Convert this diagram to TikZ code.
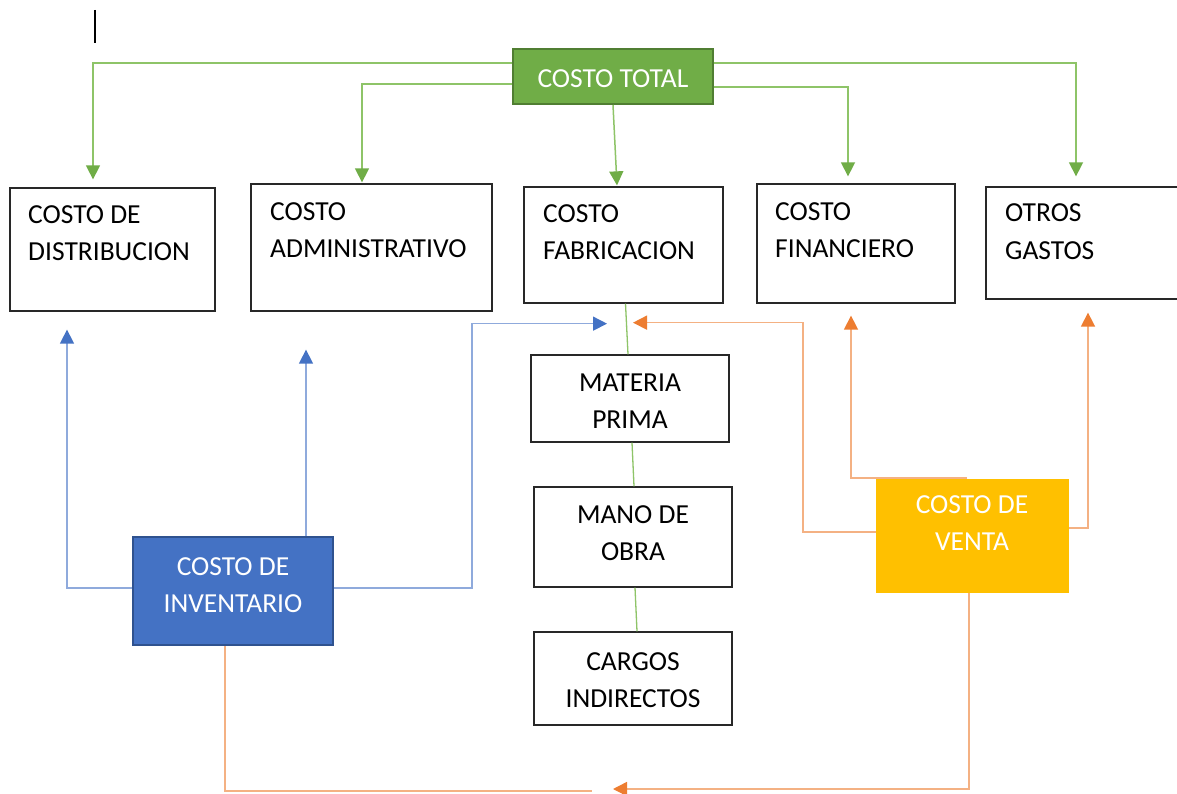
\documentclass[tikz,border=0pt]{standalone}
\usepackage{fontspec}
\setmainfont{Carlito}
\usetikzlibrary{arrows.meta,calc}
\definecolor{gline}{RGB}{142,196,104}
\definecolor{ghead}{RGB}{112,173,71}
\definecolor{gfill}{RGB}{112,173,71}
\definecolor{gbord}{RGB}{80,126,50}
\definecolor{bline}{RGB}{143,170,220}
\definecolor{bhead}{RGB}{68,114,196}
\definecolor{bfill}{RGB}{68,114,196}
\definecolor{bbord}{RGB}{47,82,143}
\definecolor{oline}{RGB}{244,177,131}
\definecolor{ohead}{RGB}{237,125,49}
\definecolor{yfill}{RGB}{255,192,0}
\definecolor{boxline}{RGB}{40,40,40}
\tikzset{
  plainbox/.style={draw=boxline,line width=1.3pt,inner sep=0pt,rectangle},
  totalbox/.style={fill=gfill,draw=gbord,line width=2pt,inner sep=0pt,rectangle},
  invbox/.style={fill=bfill,draw=bbord,line width=2pt,inner sep=0pt,rectangle},
  ventabox/.style={fill=yfill,inner sep=0pt,rectangle},
  lbl/.style={inner sep=0pt,font=\fontsize{27.5}{37}\selectfont,text=black},
  lblL/.style={lbl,align=left,anchor=west},
  lblC/.style={lbl,align=center},
  lblW/.style={lblC,text=white},
  gconn/.style={draw=gline,line width=1.5pt,-{Triangle[length=14pt,width=14pt,color=ghead]}},
  gplain/.style={draw=gline,line width=1.3pt},
  bconn/.style={draw=bline,line width=1.5pt,-{Triangle[length=14pt,width=14pt,color=bhead]}},
  oconn/.style={draw=oline,line width=1.5pt,-{Triangle[length=14pt,width=14pt,color=ohead]}},
  oplain/.style={draw=oline,line width=1.5pt},
}
\begin{document}
\begin{tikzpicture}[x=1pt,y=-1pt]
\useasboundingbox (0,0) rectangle (1177,794);
\fill[white] (0,0) rectangle (1177,794);
% cursor mark
\draw[line width=1.2pt,black] (95,10) -- (95,43);
% boxes
\node[totalbox,minimum width=200pt,minimum height=55pt] (total) at (613,76.5) {};
\node[plainbox,minimum width=205pt,minimum height=123pt] (dist) at (112.5,249.5) {};
\node[plainbox,minimum width=241pt,minimum height=127pt] (adm) at (371.5,247.5) {};
\node[plainbox,minimum width=199pt,minimum height=116pt] (fab) at (623.5,245) {};
\node[plainbox,minimum width=198pt,minimum height=119pt] (fin) at (856,243.5) {};
\node[plainbox,minimum width=214pt,minimum height=112pt] (otros) at (1093,243) {};
\node[plainbox,minimum width=198pt,minimum height=87pt] (mat) at (630,398.5) {};
\node[plainbox,minimum width=198pt,minimum height=100pt] (mano) at (633,537) {};
\node[plainbox,minimum width=198pt,minimum height=93pt] (carg) at (633,678.5) {};
\node[invbox,minimum width=200pt,minimum height=108pt] (inv) at (233,591) {};
\node[ventabox,minimum width=193pt,minimum height=114pt] (venta) at (972.5,536) {};
% texts
\node[lblW] (ttotal) at (613,80.6) {\strut COSTO TOTAL};
\node[lblL] (tdist) at (28,235.1) {\strut COSTO DE\\\strut DISTRIBUCION};
\node[lblL] (tadm) at (270,232.1) {\strut COSTO\\\strut ADMINISTRATIVO};
\node[lblL] (tfab) at (543,234.1) {\strut COSTO\\\strut FABRICACION};
\node[lblL] (tfin) at (775,232.1) {\strut COSTO\\\strut FINANCIERO};
\node[lblL] (totros) at (1005,233.1) {\strut OTROS\\\strut GASTOS};
\node[lblC] (tmat) at (630,402.1) {\strut MATERIA\\\strut PRIMA};
\node[lblC] (tmano) at (633,534.1) {\strut MANO DE\\\strut OBRA};
\node[lblC] (tcarg) at (633,681.1) {\strut CARGOS\\\strut INDIRECTOS};
\node[lblW] (tinv) at (233,586.1) {\strut COSTO DE\\\strut INVENTARIO};
\node[lblW] (tventa) at (972,524.1) {\strut COSTO DE\\\strut VENTA};
% green connectors
\draw[gconn] ([yshift=13.5pt]total.west) -| ($(dist.north)+(-19.5,-8)$);
\draw[gconn] ([yshift=-7.5pt]total.west) -| ($(adm.north)+(-9.5,-1)$);
\draw[gconn] (total.south) -- ($(fab.north)+(-6.5,-1)$);
\draw[gconn] ([yshift=-10.5pt]total.east) -| ($(fin.north)+(-8,-7)$);
\draw[gconn] ([yshift=13.5pt]total.east) -| ($(otros.north)+(-17,-10)$);
\draw[gplain] ($(fab.south)+(2,0)$) -- ($(mat.north)+(-2,0)$);
\draw[gplain] ($(mat.south)+(2,0)$) -- ($(mano.north)+(1,0)$);
\draw[gplain] ($(mano.south)+(2,0)$) -- ($(carg.north)+(4,0)$);
% blue connectors
\draw[bconn] ([yshift=3pt]inv.west) -| ($(dist.south)+(-45.5,18)$);
\draw[bconn] ($(inv.north)+(73,0)$) -- ($(adm.south)+(-65.5,38)$);
\draw[bconn] ([yshift=3pt]inv.east) -| ($(fab.south)+(-151.5,20)$) -- ($(fab.south)+(-16.5,20)$);
% orange connectors
\draw[oconn] ([yshift=4pt]venta.west) -| ($(fab.south)+(179.5,19)$) -- ($(fab.south)+(9.5,19)$);
\draw[oconn] ($(venta.north)+(-5.5,-1)$) -| ($(fin.south)+(-5,12)$);
\draw[oconn] ([yshift=8pt]venta.east) -| ($(otros.south)+(-5,13)$);
\coordinate (vend) at (613,789);
\coordinate (iend) at (592,791);
\draw[oconn] ([xshift=-3.5pt]venta.south) |- (vend);
\draw[oplain] ([xshift=-8pt]inv.south) |- (iend);
\end{tikzpicture}
\end{document}
